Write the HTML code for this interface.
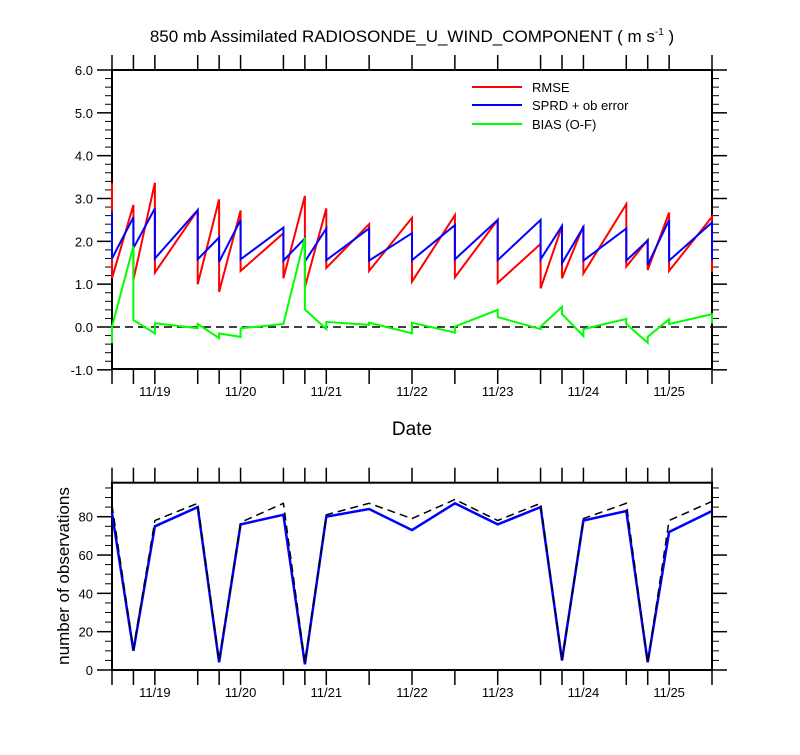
<!DOCTYPE html>
<html><head><meta charset="utf-8"><style>
html,body{margin:0;padding:0;background:#fff;}
svg text{font-family:"Liberation Sans",Arial,sans-serif;fill:#000;}
</style></head>
<body>
<svg id="chart" width="800" height="750" viewBox="0 0 800 750" xmlns="http://www.w3.org/2000/svg">
<text x="412" y="42" font-size="17" text-anchor="middle">850 mb Assimilated RADIOSONDE_U_WIND_COMPONENT ( m s<tspan font-size="10" dy="-7">-1</tspan><tspan dy="7"> )</tspan></text>
<g id="topPanel"></g>
<g id="botPanel"></g>
<text x="412" y="435" font-size="19" text-anchor="middle">Date</text>
<text transform="translate(69,576) rotate(-90)" font-size="17" text-anchor="middle">number of observations</text>
<g>
<line x1="472" y1="87" x2="522" y2="87" stroke="#f00" stroke-width="2"/>
<text x="532" y="92" font-size="13">RMSE</text>
<line x1="472" y1="105" x2="522" y2="105" stroke="#00f" stroke-width="2"/>
<text x="532" y="110" font-size="13">SPRD + ob error</text>
<line x1="472" y1="124" x2="522" y2="124" stroke="#0f0" stroke-width="2"/>
<text x="532" y="129" font-size="13">BIAS (O-F)</text>
</g>
</svg>
<script>
// times in days since 11/18 12Z
const times = [0,0.25,0.5,1.0,1.25,1.5,2.0,2.25,2.5,3.0,3.5,4.0,4.5,5.0,5.25,5.5,6.0,6.25,6.5,7.0];
const dayLabels = ["11/19","11/20","11/21","11/22","11/23","11/24","11/25"];
const dayTimes = [0.5,1.5,2.5,3.5,4.5,5.5,6.5];
const rmsePrior = [3.36,2.85,3.37,2.73,2.98,2.72,2.19,3.06,2.77,2.40,2.55,2.61,2.50,1.94,2.35,2.36,2.87,2.03,2.67,2.57];
const rmsePost  = [1.14,1.10,1.27,1.00,0.82,1.31,1.14,0.93,1.38,1.31,1.06,1.16,1.03,0.90,1.14,1.25,1.41,1.33,1.31,1.29];
const sprdPrior = [2.69,2.56,2.77,2.73,2.09,2.50,2.32,2.07,2.30,2.30,2.19,2.38,2.50,2.50,2.36,2.33,2.30,2.02,2.50,2.44];
const sprdPost  = [1.60,1.84,1.60,1.58,1.52,1.58,1.55,1.53,1.56,1.55,1.56,1.58,1.56,1.58,1.49,1.55,1.55,1.45,1.55,1.55];
const biasPrior = [-0.38,1.89,-0.15,-0.03,-0.26,-0.23,0.07,2.09,-0.05,0.05,-0.15,-0.13,0.40,-0.05,0.47,-0.21,0.19,-0.37,0.18,0.30];
const biasPost  = [0.01,0.16,0.09,0.07,-0.15,-0.03,0.07,0.41,0.12,0.10,0.10,0.01,0.23,0.01,0.30,-0.05,0.07,-0.23,0.07,0.08];
const obsUsed  = [82,10,75,85,4,76,81,3,80,84,73,87,76,85,5,78,83,4,72,83];
const obsTotal = [86,11,78,87,5,77,87,4,81,87,79,89,78,87,5,79,87,4,78,88];
const yTopTicks = [-1,0,1,2,3,4,5,6];
const yBotTicks = [0,20,40,60,80];

const NS='http://www.w3.org/2000/svg';
const X0=112,X1=712;
const xs=t=>X0+(X1-X0)*t/7;
const yT=v=>327-(v)*(327-70)/6;
const yB=v=>670-v*(670-516.7)/80;
const BTOP=482.7;

function mk(parent,tag,attrs){const e=document.createElementNS(NS,tag);for(const k in attrs)e.setAttribute(k,attrs[k]);parent.appendChild(e);return e;}

function axes(g,ty,by,yf,ticks,minorStep,lo,hi,fmt,prefix){
  const r=mk(g,'rect',{x:X0,y:ty,width:X1-X0,height:by-ty,fill:'none',stroke:'#000','stroke-width':2});
  
  
  times.forEach(t=>{
    const x=xs(t);
    const a=mk(g,'line',{x1:x,y1:by,x2:x,y2:by+15,stroke:'#000','stroke-width':1.5});
    
    
    const b=mk(g,'line',{x1:x,y1:ty,x2:x,y2:ty-15,stroke:'#000','stroke-width':1.5});
    
    
  });
  dayTimes.forEach((t,i)=>{
    const tx=mk(g,'text',{x:xs(t),y:by+27,'font-size':13,'text-anchor':'middle'});
    tx.textContent=dayLabels[i];
    
    
  });
  const n=Math.round((hi-lo)/minorStep);
  for(let k=0;k<=n;k++){
    const v=lo+k*minorStep;
    const y=yf(v);
    if(y<ty-0.5)continue;
    const major=ticks.some(tk=>Math.abs(tk-v)<1e-6);
    const L=major?15:7;
    const a=mk(g,'line',{x1:X0,y1:y,x2:X0-L,y2:y,stroke:'#000','stroke-width':major?1.5:1});
    
    
    const b=mk(g,'line',{x1:X1,y1:y,x2:X1+L,y2:y,stroke:'#000','stroke-width':major?1.5:1});
    
    
  }
  ticks.forEach(v=>{
    const tx=mk(g,'text',{x:X0-19,y:yf(v)+5,'font-size':13,'text-anchor':'end'});
    tx.textContent=fmt(v);
    
    
  });
}

function saw(g,prior,post,color,name){
  let d='';
  times.forEach((t,i)=>{
    const x=xs(t).toFixed(1);
    d+=(i===0?'M':'L')+x+','+yT(prior[i]).toFixed(1)+'L'+x+','+yT(post[i]).toFixed(1);
  });
  const p=mk(g,'path',{d:d,fill:'none',stroke:color,'stroke-width':2,'stroke-linejoin':'miter'});
  
  
}

const topG=document.getElementById('topPanel');
axes(topG,70,369,yT,yTopTicks,0.2,-1,6,v=>v.toFixed(1),'top');
const zl=mk(topG,'line',{x1:X0,y1:yT(0),x2:X1,y2:yT(0),stroke:'#000','stroke-width':1.5,'stroke-dasharray':'8,5'});


saw(topG,rmsePrior,rmsePost,'#f00','rmse-line');
saw(topG,sprdPrior,sprdPost,'#00f','sprd-line');
saw(topG,biasPrior,biasPost,'#0f0','bias-line');

const botG=document.getElementById('botPanel');
axes(botG,BTOP,670,yB,yBotTicks,5,0,95,v=>String(v),'bottom');
function obsLine(vals,attrs,name){
  const pts=times.map((t,i)=>xs(t).toFixed(1)+','+yB(vals[i]).toFixed(1)).join(' ');
  const p=mk(botG,'polyline',Object.assign({points:pts,fill:'none'},attrs));
  
  
}
obsLine(obsUsed,{stroke:'#00f','stroke-width':2.5},'obs-used-line');
obsLine(obsTotal,{stroke:'#000','stroke-width':1.5,'stroke-dasharray':'8,5'},'obs-total-line');
</script>
</body></html>
